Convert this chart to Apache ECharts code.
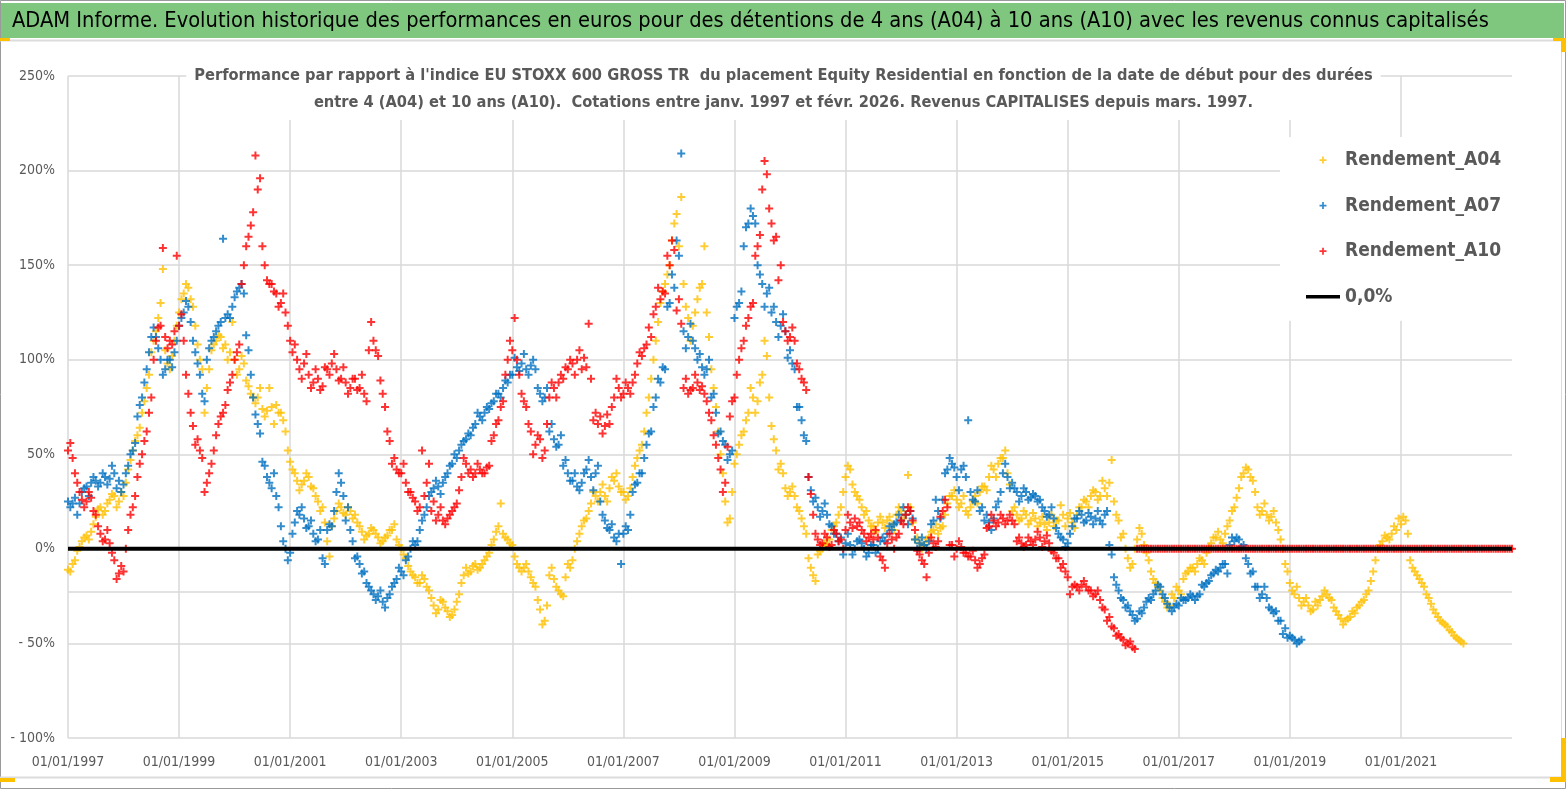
<!DOCTYPE html>
<html>
<head>
<meta charset="utf-8">
<title>ADAM - Rendements A04 / A07 / A10</title>
<script src="https://cdn.jsdelivr.net/npm/echarts@6/dist/echarts.min.js"></script>
<style>
  html, body { margin: 0; padding: 0; background: #fff; }
  #chart { width: 1567px; height: 790px; }
</style>
</head>
<body>
<div id="chart"></div>
<script>
// valeurs (en %), premier point = début janv. 1997
// *_debut : lecture en début de mois, *_milieu : lecture en milieu de mois
const startYear = 1997;

const rendementA04_debut = [
  -11, -8, -1, 4, 7, 9, 17, 22, 20, 26, 28, 25,          // 1997
  28, 42, 52, 60, 72, 85, 104, 115, 130, 105, 95, 110,   // 1998
  125, 135, 138, 128, 108, 95, 85, 105, 110, 112, 108, 104, // 1999
  100, 95, 98, 86, 80, 80, 74, 73, 75, 76, 72, 62,       // 2000
  46, 40, 31, 36, 38, 32, 25, 22, 4, 12, 20, 22,         // 2001
  18, 20, 18, 12, 5, 8, 10, 6, 4, 7, 10, 5,              // 2002
  0, -5, -12, -15, -18, -16, -22, -30, -32, -28, -33, -35, // 2003
  -28, -18, -10, -12, -8, -10, -6, -2, 5, 12, 8, 5,      // 2004
  2, -8, -12, -8, -15, -20, -32, -38, -14, -16, -22, -25, // 2005
  -8, -6, 4, 12, 16, 24, 28, 30, 28, 32, 36, 33,         // 2006
  30, 28, 38, 48, 55, 72, 90, 110, 130, 140, 150, 172,   // 2007
  160, 140, 122, 118, 132, 140, 125, 95, 75, 50, 25, 16, // 2008
  45, 55, 62, 72, 80, 78, 92, 102, 65, 52, 45, 32,       // 2009
  30, 28, 20, 12, -5, -14, -3, 0, 2, 10, 14, 22,         // 2010
  38, 42, 30, 26, 18, 15, 12, 14, 14, 15, 13, 18,        // 2011
  20, 18, 22, 5, 3, 2, 6, 10, 8, 12, 24, 28,             // 2012
  26, 24, 20, 22, 28, 30, 33, 38, 42, 45, 48, 40,        // 2013
  20, 18, 16, 18, 15, 16, 14, 13, 14, 12, 15, 18,        // 2014
  16, 14, 18, 22, 25, 28, 30, 28, 32, 35, 25, 15,        // 2015
  8, -5, -8, 5, 8, -2, -12, -18, -22, -28, -30, -26,     // 2016
  -22, -16, -12, -10, -8, -6, -2, 3, 6, 5, 8, 15,        // 2017
  22, 32, 40, 42, 36, 22, 20, 18, 17, 14, 5, -8,         // 2018
  -18, -24, -26, -28, -30, -32, -30, -25, -24, -27, -33, -37, // 2019
  -38, -36, -34, -30, -27, -22, -12, 0, 4, 6, 8, 10,     // 2020
  13, 15, -6, -12, -16, -20, -26, -32, -36, -39, -41, -44, // 2021
  -47, -49                                               // 2022
];
const rendementA04_milieu = [
  -12, -6, 1, 6, 5, 13, 21, 18, 24, 29, 22, 30,          // 1997
  35, 47, 57, 64, 78, 92, 110, 122, 148, 98, 102, 118,   // 1998
  132, 140, 132, 118, 100, 72, 95, 108, 113, 106, 100, 120, // 1999
  92, 102, 89, 82, 77, 85, 70, 85, 66, 72, 68, 52,       // 2000
  42, 36, 34, 40, 33, 28, 20, 14, -4, 16, 24, 19,        // 2001
  22, 16, 14, 9, 7, 11, 8, 3, 6, 10, 13, 2,              // 2002
  -3, -9, -14, -18, -14, -20, -26, -34, -27, -31, -36, -32, // 2003
  -24, -14, -13, -9, -11, -8, -4, 2, 9, 24, 6, 3,        // 2004
  -4, -10, -10, -12, -18, -27, -40, -30, -10, -20, -24, -15, // 2005
  -10, 0, 8, 15, 20, 30, 25, 34, 25, 38, 40, 30,         // 2006
  26, 32, 44, 52, 62, 80, 100, 120, 136, 145, 163, 177,  // 2007
  186, 128, 110, 125, 138, 160, 112, 85, 62, 40, 14, 30, // 2008
  50, 60, 68, 85, 72, 88, 110, 80, 58, 42, 40, 28,       // 2009
  33, 22, 16, 8, -10, -17, -1, 3, 5, 12, 18, 30,         // 2010
  44, 34, 28, 22, 20, 12, 9, 17, 11, 17, 10, 22,         // 2011
  16, 39, 14, 6, 0, 5, 9, 13, 11, 18, 28, 31,            // 2012
  22, 28, 18, 25, 24, 33, 31, 44, 38, 48, 52, 34,        // 2013
  22, 15, 20, 13, 19, 12, 17, 10, 18, 15, 23, 12,        // 2014
  19, 11, 22, 26, 22, 31, 26, 36, 28, 47, 18, 6,         // 2015
  0, -10, 0, 11, 2, -6, -16, -20, -26, -31, -24, -20,    // 2016
  -24, -13, -10, -12, -5, -8, 1, 6, 9, 3, 12, 20,        // 2017
  27, 38, 43, 38, 30, 18, 24, 15, 20, 10, 0, -12,        // 2018
  -22, -20, -30, -26, -33, -28, -27, -22, -26, -31, -35, -40, // 2019
  -37, -33, -31, -28, -24, -17, -6, 2, 7, 5, 12, 16,     // 2020
  17, 8, -10, -14, -18, -24, -29, -34, -38, -40, -43, -46, // 2021
  -48, -50                                               // 2022
];

const rendementA07_debut = [
  25, 24, 18, 30, 33, 35, 36, 35, 38, 37, 40, 36,        // 1997
  34, 44, 52, 70, 80, 95, 112, 112, 100, 95, 100, 104,   // 1998
  118, 125, 128, 110, 98, 82, 100, 110, 115, 120, 122, 122, // 1999
  133, 138, 135, 105, 80, 66, 46, 38, 32, 28, 12, 0,     // 2000
  -2, 14, 18, 16, 12, 8, 5, -5, 10, 12, 30, 35,          // 2001
  15, 10, -5, -8, -12, -20, -24, -25, -28, -26, -20, -16, // 2002
  -12, -6, 0, 2, 10, 18, 28, 32, 33, 35, 40, 45,         // 2003
  48, 55, 58, 60, 66, 70, 72, 74, 78, 82, 85, 88,        // 2004
  92, 96, 98, 95, 97, 95, 82, 80, 62, 58, 55, 44,        // 2005
  40, 36, 33, 35, 42, 38, 40, 25, 15, 10, 6, 8,          // 2006
  8, 10, 30, 35, 40, 55, 62, 80, 88, 95, 130, 138,       // 2007
  155, 115, 112, 110, 100, 96, 95, 80, 72, 62, 55, 50,   // 2008
  122, 130, 160, 172, 176, 150, 140, 135, 125, 120, 118, 115, // 2009
  105, 95, 75, 60, 38, 25, 22, 20, 18, 12, 8, 6,         // 2010
  3, 2, 0, 5, 0, -2, 2, 0, 6, 8, 10, 14,                 // 2011
  15, 18, 20, 5, 3, 2, 4, 15, 20, 26, 42, 45,            // 2012
  38, 42, 38, 30, 25, 20, 15, 14, 16, 25, 40, 38,        // 2013
  35, 30, 28, 30, 27, 28, 26, 20, 18, 16, 8, 5,          // 2014
  3, 12, 16, 18, 15, 17, 16, 15, 18, 2, -15, -22,        // 2015
  -27, -30, -35, -37, -34, -28, -27, -22, -20, -26, -31, -31, // 2016
  -30, -27, -26, -25, -25, -19, -18, -14, -11, -10, -8, 2, // 2017
  4, 5, 2, -8, -12, -20, -24, -26, -32, -33, -38, -42,   // 2018
  -46, -48, -49                                          // 2019
];
const rendementA07_milieu = [
  22, 27, 24, 32, 28, 38, 33, 40, 34, 44, 32, 30,        // 1997
  40, 50, 56, 76, 88, 104, 117, 106, 92, 100, 96, 110,   // 1998
  122, 131, 120, 104, 92, 78, 106, 112, 118, 164, 124, 128, // 1999
  136, 140, 113, 92, 71, 61, 44, 35, 40, 22, 4, -6,      // 2000
  8, 20, 22, 11, 15, 4, 10, -8, 13, 20, 40, 28,          // 2001
  22, 4, -4, -13, -18, -22, -27, -22, -31, -24, -18, -10, // 2002
  -14, -4, 4, 4, 15, 22, 30, 36, 29, 38, 44, 50,         // 2003
  52, 57, 61, 64, 72, 68, 75, 77, 82, 80, 89, 92,        // 2004
  101, 94, 103, 92, 100, 85, 78, 85, 66, 54, 60, 47,     // 2005
  36, 40, 31, 40, 47, 31, 44, 18, 11, 13, 4, -8,         // 2006
  12, 18, 34, 40, 48, 61, 75, 90, 96, 128, 145, 163,     // 2007
  209, 106, 119, 106, 103, 92, 100, 82, 61, 57, 47, 52,  // 2008
  128, 136, 170, 180, 172, 145, 128, 138, 128, 112, 124, 101, // 2009
  98, 75, 68, 57, 31, 27, 17, 24, 13, 8, 4, -3,          // 2010
  8, -3, 4, 3, -4, 2, -2, 4, 4, 12, 13, 18,              // 2011
  22, 13, 16, 0, 6, 0, 13, 26, 16, 40, 48, 43,           // 2012
  31, 44, 68, 26, 31, 22, 18, 10, 22, 30, 45, 32,        // 2013
  32, 25, 32, 26, 29, 25, 22, 17, 22, 11, 6, 1,          // 2014
  8, 16, 20, 14, 19, 13, 20, 13, 20, -3, -19, -26,       // 2015
  -31, -33, -38, -33, -31, -26, -24, -19, -24, -29, -33, -29, // 2016
  -26, -27, -24, -27, -24, -20, -17, -13, -12, -8, -13, 6, // 2017
  6, 1, -5, -13, -20, -26, -20, -31, -34, -38, -45, -47, // 2018
  -47, -50, -48                                          // 2019
];

// A10 : après mars 2016 les valeurs sont à 0 (pas encore 10 ans de recul)
const rendementA10_debut = [
  52, 48, 35, 26, 25, 27, 18, 8, 5, 3, -6, -13,          // 1997
  -12, 10, 22, 38, 50, 62, 80, 110, 118, 112, 110, 115,  // 1998
  118, 110, 82, 65, 58, 48, 35, 45, 60, 70, 76, 88,      // 1999
  100, 108, 150, 165, 178, 190, 160, 142, 140, 135, 130, 125, // 2000
  110, 108, 95, 98, 92, 88, 90, 86, 95, 98, 95, 90,      // 2001
  88, 85, 90, 85, 82, 105, 110, 102, 82, 62, 45, 42,     // 2002
  40, 35, 30, 25, 22, 28, 45, 25, 18, 15, 16, 20,        // 2003
  24, 38, 45, 42, 40, 42, 40, 44, 60, 68, 78, 100,       // 2004
  105, 100, 82, 75, 62, 55, 58, 52, 80, 85, 88, 90,      // 2005
  95, 98, 100, 95, 96, 90, 72, 70, 65, 66, 80, 85,       // 2006
  82, 85, 88, 98, 102, 108, 112, 128, 132, 135, 150, 158, // 2007
  132, 85, 82, 85, 88, 86, 78, 68, 55, 42, 35, 70,       // 2008
  80, 100, 110, 122, 130, 160, 190, 198, 172, 165, 150, 115, // 2009
  112, 110, 95, 88, 38, 18, 5, 3, 6, 2, 8, 5,            // 2010
  10, 14, 16, 14, 8, 6, 5, 6, -6, 3, 5, 6,               // 2011
  15, 18, 20, 10, -3, -8, -2, 3, 4, 20, 22, 2,           // 2012
  0, 1, -2, -4, -6, -8, -3, 12, 15, 14, 16, 15,          // 2013
  15, 4, 3, 2, 4, 5, 6, 4, 3, -2, -5, -8,                // 2014
  -15, -20, -20, -19, -20, -22, -24, -27, -32, -36, -42, -45, // 2015
  -48, -50, -52, 0, 0, 0, 0, 0, 0, 0, 0, 0,              // 2016
  0, 0, 0, 0, 0, 0, 0, 0, 0, 0, 0, 0,                    // 2017
  0, 0, 0, 0, 0, 0, 0, 0, 0, 0, 0, 0,                    // 2018
  0, 0, 0, 0, 0, 0, 0, 0, 0, 0, 0, 0,                    // 2019
  0, 0, 0, 0, 0, 0, 0, 0, 0, 0, 0, 0,                    // 2020
  0, 0, 0, 0, 0, 0, 0, 0, 0, 0, 0, 0,                    // 2021
  0, 0, 0, 0, 0, 0, 0, 0, 0, 0, 0, 0,                    // 2022
  0                                                      // 2023
];
const rendementA10_milieu = [
  56, 40, 30, 22, 30, 20, 12, 4, 10, -2, -16, -9,        // 1997
  0, 18, 28, 45, 57, 72, 100, 117, 159, 106, 108, 155,   // 1998
  124, 92, 72, 55, 52, 30, 40, 52, 66, 72, 84, 92,       // 1999
  104, 140, 160, 171, 208, 196, 150, 140, 136, 128, 135, 118, // 2000
  104, 100, 90, 103, 85, 95, 84, 96, 92, 103, 89, 96,    // 2001
  82, 90, 84, 92, 78, 120, 105, 89, 75, 57, 48, 40,      // 2002
  45, 30, 27, 20, 52, 35, 20, 15, 22, 13, 18, 22,        // 2003
  31, 48, 40, 38, 45, 40, 43, 57, 66, 75, 92, 110,       // 2004
  122, 92, 78, 66, 50, 60, 48, 66, 88, 80, 92, 96,       // 2005
  100, 92, 105, 101, 119, 68, 66, 61, 71, 75, 90, 80,    // 2006
  88, 82, 92, 104, 106, 117, 124, 138, 136, 155, 163, 126, // 2007
  119, 90, 84, 92, 84, 82, 72, 60, 48, 30, 54, 78,       // 2008
  92, 106, 118, 128, 155, 166, 205, 180, 163, 142, 120, 110, // 2009
  117, 98, 90, 84, 29, 8, 2, 8, 1, 10, 4, 0,             // 2010
  18, 11, 12, 10, 4, 8, 10, -4, -10, 8, 0, 8,            // 2011
  13, 22, 15, -1, -6, -15, 6, 1, 17, 26, 2, -4,          // 2012
  4, -2, -4, -1, -10, -5, 11, 18, 12, 18, 13, 18,        // 2013
  13, 6, 1, 6, 2, 9, 1, 7, -1, -5, -10, -12,             // 2014
  -24, -19, -22, -17, -22, -25, -22, -31, -38, -41, -46, -47, // 2015
  -51, -49, -53, 0, 0, 0, 0, 0, 0, 0, 0, 0,              // 2016
  0, 0, 0, 0, 0, 0, 0, 0, 0, 0, 0, 0,                    // 2017
  0, 0, 0, 0, 0, 0, 0, 0, 0, 0, 0, 0,                    // 2018
  0, 0, 0, 0, 0, 0, 0, 0, 0, 0, 0, 0,                    // 2019
  0, 0, 0, 0, 0, 0, 0, 0, 0, 0, 0, 0,                    // 2020
  0, 0, 0, 0, 0, 0, 0, 0, 0, 0, 0, 0,                    // 2021
  0, 0, 0, 0, 0, 0, 0, 0, 0, 0, 0, 0                     // 2022
];

// ligne de référence 0,0% (début / fin en années depuis 1997)
const zeroLineX = [0, 26];
const zeroLineY = [0, 0];
// trait gris horizontal présent sous la ligne 0 dans l'original
const extraGridLevels = [-22.7];

const yTicks = { min: -100, max: 250, step: 50 };
const xYears = { min: 0, max: 26, step: 2 };

const mainTitle = "ADAM Informe. Evolution historique des performances en euros pour des détentions de 4 ans (A04) à 10 ans (A10) avec les revenus connus capitalisés";
const subTitle1 = "Performance par rapport à l'indice EU STOXX 600 GROSS TR  du placement Equity Residential en fonction de la date de début pour des durées";
const subTitle2 = "entre 4 (A04) et 10 ans (A10).  Cotations entre janv. 1997 et févr. 2026. Revenus CAPITALISES depuis mars. 1997.";

const FONT = "'Liberation Sans Narrow', 'DejaVu Sans Condensed', sans-serif";
const PLUS = 'path://M3,0H5V3H8V5H5V8H3V5H0V3H3Z';

// taille de police pour qu'un texte occupe une largeur donnée
function fitFontSize(text, weight, width) {
  const ctx = document.createElement('canvas').getContext('2d');
  ctx.font = weight + ' 100px ' + FONT;
  return Math.round(100 * width / ctx.measureText(text).width * 10) / 10;
}

// x = années depuis janv. 1997, un point par mois (+ décalage d'un demi-mois)
function toPoints(values, offset) {
  return values.map((v, i) => [(i + offset) / 12, v]);
}
function monthly(debut, milieu) {
  return toPoints(debut, 0).concat(toPoints(milieu, 0.5));
}

const chart = echarts.init(document.getElementById('chart'));

const titleSize = fitFontSize(mainTitle, 'normal', 1478);
const subSize = fitFontSize(subTitle1, 'bold', 1181);

const option = {
  animation: false,
  backgroundColor: '#fff',
  textStyle: { fontFamily: FONT },
  graphic: [
    { type: 'rect', shape: { x: 0.5, y: 0.5, width: 1565, height: 788 }, style: { fill: 'none', stroke: '#9a9a9a', lineWidth: 1 }, z: -10 },
    { type: 'rect', shape: { x: 1, y: 3, width: 1563, height: 35 }, style: { fill: '#7fc77f' }, z: -9 },
    { type: 'line', shape: { x1: 0, y1: 40.5, x2: 1565, y2: 40.5 }, style: { stroke: '#dcdcdc', lineWidth: 2 }, z: -9 },
    { type: 'line', shape: { x1: 0, y1: 777.5, x2: 1562, y2: 777.5 }, style: { stroke: '#dcdcdc', lineWidth: 2 }, z: -9 },
    { type: 'line', shape: { x1: 1561.5, y1: 41, x2: 1561.5, y2: 777 }, style: { stroke: '#dcdcdc', lineWidth: 1 }, z: -9 },
    { type: 'text', x: 12, y: 21, style: { text: mainTitle, fill: '#000', font: 'normal ' + titleSize + 'px ' + FONT, verticalAlign: 'middle' }, z: 10 },
    // poignées de sélection jaunes
    { type: 'rect', shape: { x: 0, y: 38, width: 10, height: 3 }, style: { fill: '#ffc000' }, z: 10 },
    { type: 'rect', shape: { x: 1553, y: 38, width: 13, height: 3 }, style: { fill: '#ffc000' }, z: 10 },
    { type: 'rect', shape: { x: 1561, y: 38, width: 5, height: 14 }, style: { fill: '#ffc000' }, z: 10 },
    { type: 'rect', shape: { x: 0, y: 778, width: 15, height: 4 }, style: { fill: '#ffc000' }, z: 10 },
    { type: 'rect', shape: { x: 1561, y: 738, width: 5, height: 44 }, style: { fill: '#ffc000' }, z: 10 },
    { type: 'rect', shape: { x: 1550, y: 777, width: 16, height: 5 }, style: { fill: '#ffc000' }, z: 10 }
  ],
  title: {
    text: subTitle1 + '\n' + subTitle2,
    left: 'center',
    top: 58,
    padding: [4, 8],
    backgroundColor: '#fff',
    textStyle: { fontFamily: FONT, fontSize: subSize, fontWeight: 'bold', color: '#595959', lineHeight: 27 }
  },
  legend: {
    orient: 'vertical',
    left: 1280,
    top: 137,
    padding: [11, 25, 12, 26],
    backgroundColor: '#fff',
    itemWidth: 34,
    itemHeight: 7,
    itemGap: 21.6,
    textStyle: { fontFamily: FONT, fontSize: 19, fontWeight: 'bold', color: '#595959', lineHeight: 24 },
    data: [
      { name: 'Rendement_A04', icon: PLUS },
      { name: 'Rendement_A07', icon: PLUS },
      { name: 'Rendement_A10', icon: PLUS },
      { name: '0,0%', icon: 'path://M0,0H34V3.5H0Z' }
    ]
  },
  grid: { left: 68, right: 55, top: 76, bottom: 52 },
  xAxis: {
    type: 'value',
    min: xYears.min,
    max: xYears.max,
    interval: xYears.step,
    axisLine: { show: true, lineStyle: { color: '#d9d9d9', width: 1.5 } },
    axisTick: { show: false },
    splitLine: { show: true, showMaxLine: false, lineStyle: { color: '#d9d9d9', width: 1.5 } },
    axisLabel: {
      margin: 17, fontSize: 14, color: '#595959', fontFamily: FONT, showMaxLabel: false,
      formatter: v => '01/01/' + (startYear + v)
    }
  },
  yAxis: {
    type: 'value',
    min: yTicks.min,
    max: yTicks.max,
    interval: yTicks.step,
    axisLine: { show: false },
    axisTick: { show: false },
    splitLine: { lineStyle: { color: '#d9d9d9', width: 1.5 } },
    axisLabel: {
      margin: 13, fontSize: 14, color: '#595959', fontFamily: FONT,
      formatter: v => (v < 0 ? '- ' + (-v) : v) + '%'
    }
  },
  series: [
    {
      name: '0,0%',
      type: 'line',
      data: zeroLineX.map((x, i) => [x, zeroLineY[i]]),
      symbol: 'none',
      color: '#000',
      lineStyle: { color: '#000', width: 4 },
      silent: true,
      markLine: {
        silent: true,
        z: 1,
        symbol: ['none', 'none'],
        label: { show: false },
        lineStyle: { color: '#d9d9d9', width: 1.5, type: 'solid' },
        data: extraGridLevels.map(v => ({ yAxis: v }))
      }
    },
    {
      name: 'Rendement_A04', type: 'scatter', symbol: PLUS, symbolSize: 8,
      color: '#ffc000', data: monthly(rendementA04_debut, rendementA04_milieu)
    },
    {
      name: 'Rendement_A07', type: 'scatter', symbol: PLUS, symbolSize: 8,
      color: '#0070c0', data: monthly(rendementA07_debut, rendementA07_milieu)
    },
    {
      name: 'Rendement_A10', type: 'scatter', symbol: PLUS, symbolSize: 8,
      color: '#ff0000', data: monthly(rendementA10_debut, rendementA10_milieu)
    }
  ]
};

chart.setOption(option);
</script>
</body>
</html>
